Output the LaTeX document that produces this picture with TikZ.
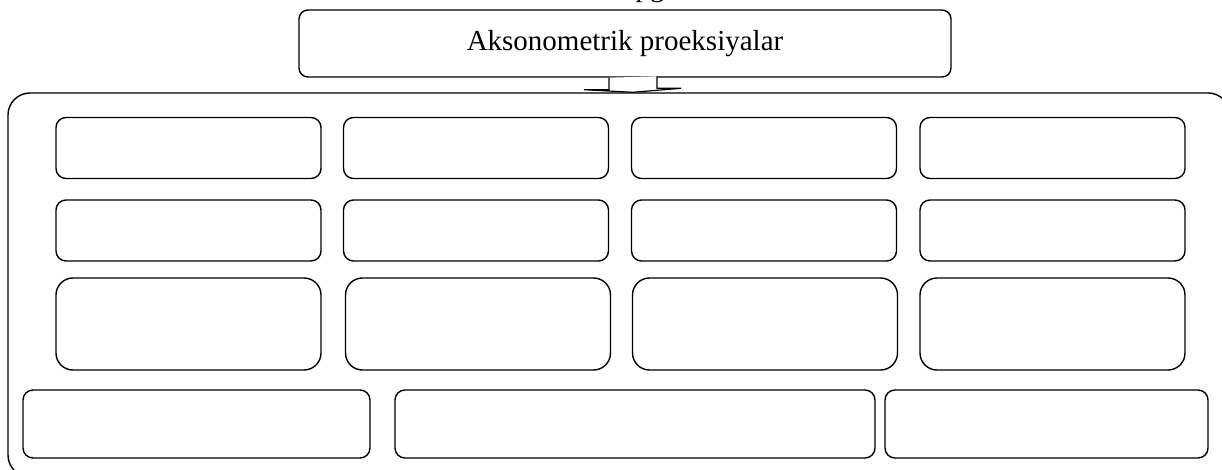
\documentclass[tikz,border=0pt]{standalone}
\usepackage{fontspec}
\setmainfont{Liberation Serif}

\tikzset{
  box/.style={draw, line width=1.4pt, rounded corners=10pt, minimum width=265pt, minimum height=61pt, inner sep=0pt},
  tallbox/.style={box, rounded corners=17pt, minimum height=92pt},
  lowbox/.style={box, minimum height=68pt},
}

\begin{document}
\begin{tikzpicture}[x=1pt,y=-1pt]
\useasboundingbox (0,0) rectangle (1222,470);
% frame round all boxes
\node[draw, line width=1.4pt, rounded corners=22pt, minimum width=1222pt, minimum height=384pt, inner sep=0pt] (frame) at (619,285) {};
% heading
\node[draw, line width=1.4pt, rounded corners=9pt, minimum width=652pt, minimum height=67pt, font=\fontsize{29}{34}\selectfont] (head) at (625,43.5) {Aksonometrik proeksiyalar};
\node[anchor=base, font=\fontsize{29}{34}\selectfont] (cut) at (650,-3) {pg};
% block arrow
\draw[line width=1.2pt, fill=white] ([xshift=-16pt]head.south) -- ++(0,12) -- ++(-25,0) -- ([xshift=14pt]frame.north) -- ++(48,-4) -- ++(-24,0) -- ++(0,-12);
% first row
\node[box] (a1) at (188.5,148) {};
\node[box] (a2) at (476,148) {};
\node[box] (a3) at (764,148) {};
\node[box] (a4) at (1052.5,148) {};
% second row
\node[box] (b1) at (188.5,230.5) {};
\node[box] (b2) at (476,230.5) {};
\node[box] (b3) at (764,230.5) {};
\node[box] (b4) at (1052.5,230.5) {};
% third row
\node[tallbox] (c1) at (188.5,324) {};
\node[tallbox] (c2) at (478,324) {};
\node[tallbox] (c3) at (765,324) {};
\node[tallbox] (c4) at (1052.5,324) {};
% last row
\node[lowbox, minimum width=347pt] (d1) at (196.5,424) {};
\node[lowbox, minimum width=480pt] (d2) at (635,424) {};
\node[lowbox, minimum width=323pt] (d3) at (1046.5,424) {};
\end{tikzpicture}
\end{document}
